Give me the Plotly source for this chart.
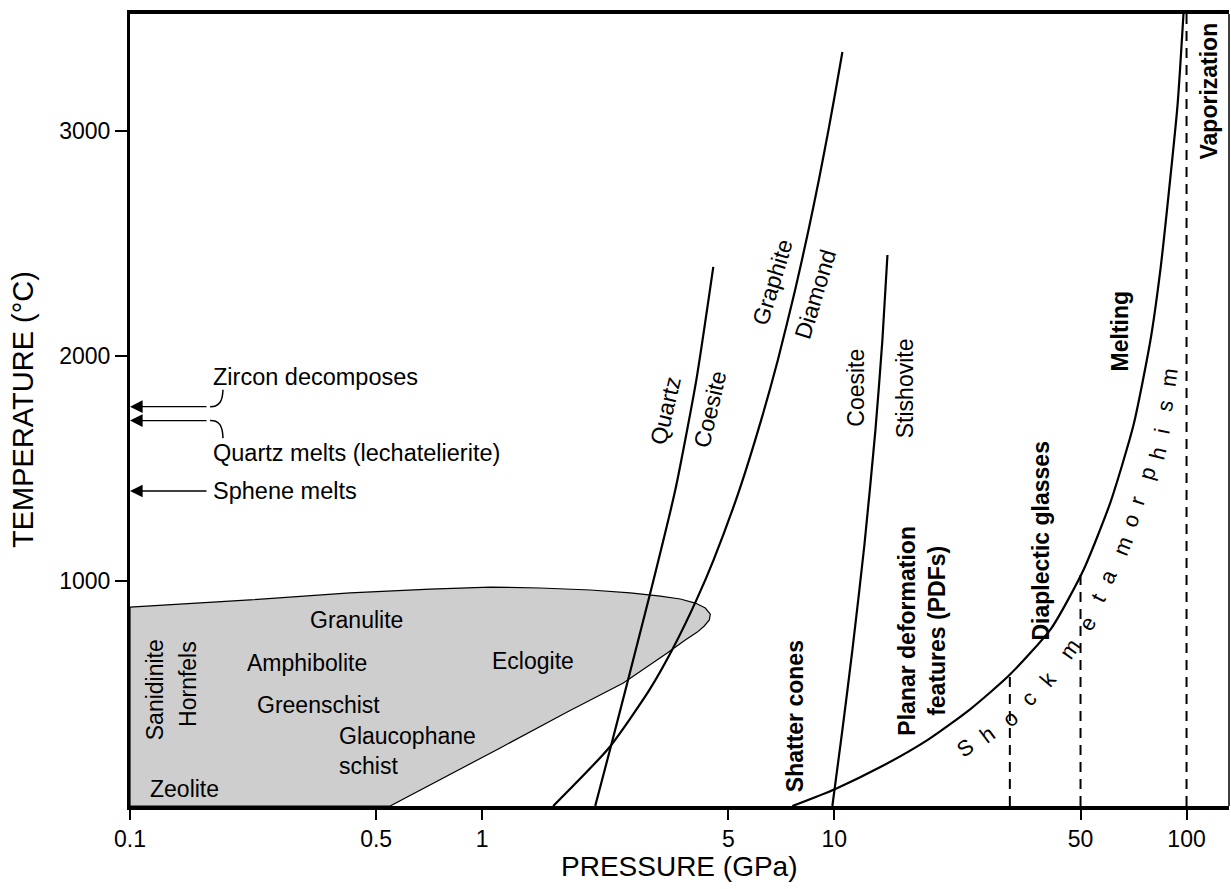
import numpy as np
import plotly.graph_objects as go

FONT = "Liberation Sans, Arial, Helvetica, sans-serif"

# ---------------- axes ----------------
x_tickvals = [0.1, 0.5, 1, 5, 10, 50, 100]
x_ticktext = ["0.1", "0.5", "1", "5", "10", "50", "100"]
y_tickvals = [1000, 2000, 3000]
P_MIN, P_MAX = 0.1, 132
T_MAX = 3520

# ---------------- metamorphic facies field (shaded) ----------------
facies_P = [0.1, 0.2193, 0.4217, 0.7116, 1.054, 1.461, 2.027, 2.634, 3.204, 3.652, 4.029,
            4.301, 4.444, 4.415, 4.273, 4.082, 3.773, 3.354, 2.516, 1.744, 1.125, 0.7259,
            0.5478, 0.1, 0.1]
facies_T = [884, 916, 947, 964, 973, 969, 960, 947, 933, 920, 902,
            880, 853, 827, 800, 773, 738, 680, 547, 418, 258, 102,
            0, 0, 884]

# ---------------- phase boundaries ----------------
quartz_coesite_P = [2.094, 2.325, 2.582, 3.041, 3.534, 4.055, 4.532]
quartz_coesite_T = [0, 271, 547, 982, 1404, 1893, 2396]

graphite_diamond_P = [1.591, 2.289, 2.985, 3.485, 4.060, 4.538, 5.372, 6.199, 6.912,
                      7.737, 8.446, 9.036, 9.621, 10.09, 10.54]
graphite_diamond_T = [0, 258, 516, 702, 916, 1093, 1404, 1716, 1982,
                      2293, 2560, 2782, 3004, 3182, 3351]

coesite_stishovite_P = [9.87, 10.54, 11.25, 12.17, 13.08, 13.69, 14.15]
coesite_stishovite_T = [0, 338, 693, 1160, 1671, 2071, 2449]

melting_P = [7.60, 10.07, 13.51, 18.37, 24.34, 31.42, 41.35, 50.97, 60.83, 70.70,
             79.0, 84.4, 88.3, 94.3, 98.1]
melting_T = [0, 76, 173, 293, 431, 582, 791, 1049, 1351, 1693,
             2071, 2391, 2671, 3116, 3530]

# dashed pressure limits
dash_P = [31.5, 50, 100]
dash_T_top = [585, 1055, 3530]

# high-temperature markers on the T axis
marker_T = [1775, 1713, 1400]
marker_text = ["Zircon decomposes", "Quartz melts (lechatelierite)", "Sphene melts"]
marker_text_T = [1907, 1569, 1400]
marker_text_P = 0.170
zircon_hook_P = [0.1688, 0.1750, 0.1800, 0.1825, 0.1837]
zircon_hook_T = [1775, 1778, 1793, 1815, 1850]
quartz_hook_P = [0.1688, 0.1750, 0.1800, 0.1825, 0.1837]
quartz_hook_T = [1713, 1710, 1695, 1673, 1635]

# "Shock metamorphism" letters following the melting curve
shock_letters = list("Shockmetamorphism")
shock_P = [23.6, 27.2, 31.6, 35.6, 40.3, 46.8, 52.3, 55.9, 59.7, 66.2, 69.3, 72.6, 77.5, 83.2, 85.5, 87.1, 88.9]
shock_T = [258, 320, 391, 480, 564, 698, 813, 924, 1022, 1156, 1271, 1356, 1476, 1569, 1667, 1778, 1902]
shock_angle = [35, 37, 40, 45, 50, 55, 60, 63, 65, 68, 70, 72, 74, 76, 78, 80, 82]

# labels: (text, P, T, angle, bold)
labels = [
    ("Granulite", 0.441, 827, 0, False),
    ("Amphibolite", 0.319, 636, 0, False),
    ("Greenschist", 0.342, 449, 0, False),
    ("Zeolite", 0.143, 76, 0, False),
    ("Sanidinite", 0.118, 516, -90, False),
    ("Hornfels", 0.146, 542, -90, False),
    ("Eclogite", 1.39, 644, 0, False),
    ("Quartz", 3.31, 1756, -77, False),
    ("Coesite", 4.44, 1764, -77, False),
    ("Graphite", 6.67, 2330, -73, False),
    ("Diamond", 8.83, 2276, -73, False),
    ("Coesite", 11.5, 1858, -90, False),
    ("Stishovite", 15.9, 1858, -90, False),
    ("Shatter cones", 7.74, 400, -90, True),
    ("Planar deformation<br>features (PDFs)", 17.7, 778, -90, True),
    ("Diaplectic glasses", 38.5, 1178, -90, True),
    ("Melting", 64.9, 2111, -90, True),
    ("Vaporization", 115.5, 3178, -90, True),
]
glauco_text, glauco_P, glauco_T = "Glaucophane<br>schist", 0.387, 244

fig = go.Figure()

fig.add_trace(go.Scatter(x=facies_P, y=facies_T, mode="lines", fill="toself",
                         fillcolor="#cecece", line=dict(color="black", width=1.2),
                         hoverinfo="skip"))

for P, T in [(quartz_coesite_P, quartz_coesite_T),
             (graphite_diamond_P, graphite_diamond_T),
             (coesite_stishovite_P, coesite_stishovite_T),
             (melting_P, melting_T)]:
    fig.add_trace(go.Scatter(x=P, y=T, mode="lines",
                             line=dict(color="black", width=2.2, shape="spline", smoothing=0.6),
                             hoverinfo="skip"))

for p, t in zip(dash_P, dash_T_top):
    fig.add_trace(go.Scatter(x=[p, p], y=[0, t], mode="lines",
                             line=dict(color="black", width=2, dash="10px,7px"), hoverinfo="skip"))

for P, T in [(zircon_hook_P, zircon_hook_T), (quartz_hook_P, quartz_hook_T)]:
    fig.add_trace(go.Scatter(x=P, y=T, mode="lines", line=dict(color="black", width=1.5, shape="spline"),
                             hoverinfo="skip"))

ann = []
for t in marker_T:
    ann.append(dict(x=np.log10(P_MIN), y=t, xref="x", yref="y", text="", showarrow=True,
                    ax=78, ay=0, axref="pixel", ayref="pixel", arrowhead=2, arrowsize=1.8,
                    arrowwidth=1.4, arrowcolor="black"))
for txt, t in zip(marker_text, marker_text_T):
    ann.append(dict(x=np.log10(marker_text_P), y=t, xref="x", yref="y", text=txt, showarrow=False,
                    xanchor="left", yanchor="middle", font=dict(size=23.5)))

for txt, p, t, ang, bold in labels:
    ann.append(dict(x=np.log10(p), y=t, xref="x", yref="y",
                    text=f"<b>{txt}</b>" if bold else txt, showarrow=False,
                    textangle=ang, xanchor="center", yanchor="middle", font=dict(size=23)))
ann.append(dict(x=np.log10(glauco_P), y=glauco_T, xref="x", yref="y", text=glauco_text,
                showarrow=False, xanchor="left", yanchor="middle", align="left", font=dict(size=23)))

for ch, p, t, a in zip(shock_letters, shock_P, shock_T, shock_angle):
    ann.append(dict(x=np.log10(p), y=t, xref="x", yref="y", text=ch, showarrow=False,
                    textangle=-a, xanchor="center", yanchor="middle", font=dict(size=22)))

ann.append(dict(x=0, y=0.5, xref="paper", yref="paper", text="TEMPERATURE (°C)", showarrow=False,
                textangle=-90, xanchor="center", yanchor="middle", xshift=-107, font=dict(size=29)))
ann.append(dict(x=0.5, y=0, xref="paper", yref="paper", text="PRESSURE (GPa)", showarrow=False,
                xanchor="center", yanchor="middle", yshift=-60, font=dict(size=28)))

fig.update_layout(
    width=1231, height=889,
    margin=dict(l=130, r=2, t=14, b=83),
    paper_bgcolor="white", plot_bgcolor="white", showlegend=False,
    font=dict(family=FONT, size=23, color="black"),
    xaxis=dict(type="log", range=[np.log10(P_MIN), np.log10(P_MAX)],
               tickvals=x_tickvals, ticktext=x_ticktext, ticks="outside", ticklen=10,
               tickwidth=2, tickcolor="black", showline=True, linewidth=3.5, linecolor="black",
               mirror=True, showgrid=False, zeroline=False, tickfont=dict(size=23)),
    yaxis=dict(range=[0, T_MAX], tickvals=y_tickvals, ticks="outside", ticklen=12,
               tickwidth=2, tickcolor="black", showline=True, linewidth=3, linecolor="black",
               showgrid=False, zeroline=False, tickfont=dict(size=23)),
    annotations=ann,
    shapes=[dict(type="line", xref="paper", yref="paper", x0=1, x1=1, y0=0, y1=1,
                 line=dict(color="black", width=1.5))],
)

fig.write_html("out.html")
